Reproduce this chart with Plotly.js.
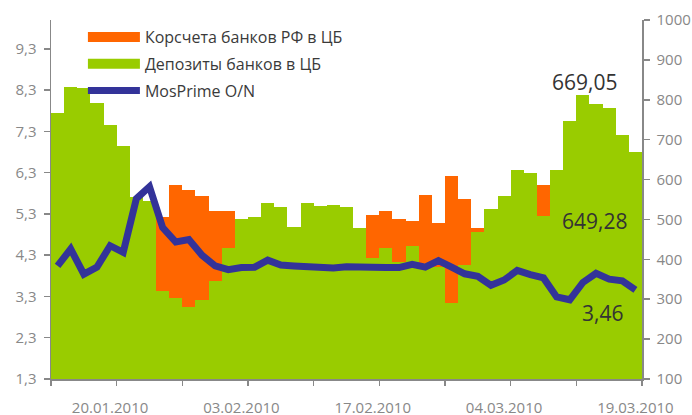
<!DOCTYPE html>
<html><head><meta charset="utf-8">
<script src="https://cdn.plot.ly/plotly-3.0.1.min.js"></script>
<style>html,body{margin:0;padding:0;background:#fff}#chart{width:692px;height:415px}</style>
</head><body><div id="chart"></div>
<script>
const dates = ['14.01.2010','15.01.2010','18.01.2010','19.01.2010','20.01.2010',
  '21.01.2010','22.01.2010','25.01.2010','26.01.2010','27.01.2010',
  '28.01.2010','29.01.2010','01.02.2010','02.02.2010','03.02.2010',
  '04.02.2010','05.02.2010','08.02.2010','09.02.2010','10.02.2010',
  '11.02.2010','12.02.2010','15.02.2010','16.02.2010','17.02.2010',
  '18.02.2010','19.02.2010','24.02.2010','25.02.2010','26.02.2010',
  '27.02.2010','01.03.2010','02.03.2010','03.03.2010','04.03.2010',
  '05.03.2010','09.03.2010','10.03.2010','11.03.2010','12.03.2010',
  '15.03.2010','16.03.2010','17.03.2010','18.03.2010','19.03.2010'];
const korschet = [640,690,700,660,620, 580,520,510,506,587,
  574,560,522,522,480, 470,460,450,470,480,
  490,470,480,460,510, 522,502,497,562,491,
  610,552,478,500,520, 560,540,587,580,600,
  620,640,610,630,649.28];
const deposits = [768,831,830,791,737, 683,557,545,321,303,
  281,297,345,428,500, 507,541,532,481,541,
  533,536,530,478,403, 428,393,433,385,380,
  291,385,468,525,560, 625,617,508,625,747,
  812,790,779,712,669.05];
const mosprime = [4.04,4.45,3.84,4.01,4.53, 4.37,5.67,5.96,4.97,4.62,
  4.68,4.30,4.04,3.95,4.00, 4.01,4.18,4.06,4.04,4.01,
  3.99,3.99,4.02,4.00,4.00, 4.00,4.00,4.08,4.01,4.17,
  4.01,3.85,3.79,3.57,3.70, 3.93,3.83,3.75,3.29,3.22,
  3.64,3.86,3.72,3.68,3.46];
const tickDates = ['20.01.2010','03.02.2010','17.02.2010','04.03.2010','19.03.2010'];
const seriesNames = ['Корсчета банков РФ в ЦБ','Депозиты банков в ЦБ','MosPrime O/N'];
const colors = ['#ff6600','#99cc00','#333399'];

const xs = dates.map((d, i) => i);
const tickvals = tickDates.map(d => dates.indexOf(d));
const minorVals = [];
for (let i = 0; i <= dates.length; i += 5) minorVals.push(i - 0.5);
const fmt = v => v.toFixed(2).replace('.', ',');
const last = a => a[a.length - 1];

const grey = '#888888';
const tickFont = {family: 'Open Sans', size: 15, color: grey};
const annFont = {family: 'Open Sans', size: 21, color: '#333333'};

const traces = [
  {type: 'bar', x: xs, y: korschet, yaxis: 'y', marker: {color: colors[0], line: {width: 0}},
   width: 1, showlegend: false, legendgroup: 'k', name: seriesNames[0]},
  {type: 'bar', x: xs, y: deposits, yaxis: 'y', marker: {color: colors[1], line: {width: 0}},
   width: 1, showlegend: false, legendgroup: 'd', name: seriesNames[1]},
  {type: 'scatter', mode: 'lines', x: xs, y: mosprime, yaxis: 'y2', name: seriesNames[2],
   legendgroup: 'm', line: {color: colors[2], width: 7}, legendrank: 3},
  {type: 'scatter', mode: 'lines', x: [null], y: [null], yaxis: 'y', name: seriesNames[0],
   legendgroup: 'k', line: {color: colors[0], width: 11}, legendrank: 1, hoverinfo: 'skip'},
  {type: 'scatter', mode: 'lines', x: [null], y: [null], yaxis: 'y', name: seriesNames[1],
   legendgroup: 'd', line: {color: colors[1], width: 11}, legendrank: 2, hoverinfo: 'skip'}
];

const layout = {
  width: 692, height: 415,
  margin: {l: 51, r: 50, t: 20, b: 36, pad: 0},
  paper_bgcolor: '#ffffff', plot_bgcolor: '#ffffff',
  separators: ', ',
  barmode: 'overlay', bargap: 0,
  font: {family: 'Open Sans', size: 15, color: '#333333'},
  showlegend: true,
  legend: {x: 0.054, y: 1.0, xanchor: 'left', yanchor: 'top', bgcolor: 'rgba(0,0,0,0)',
           font: {family: 'Open Sans', size: 16, color: '#3a3a3a'}, itemwidth: 52,
           traceorder: 'grouped', tracegroupgap: 3},
  xaxis: {range: [-0.5, dates.length - 0.5], tickmode: 'array', tickvals: tickvals, ticktext: tickDates,
          ticks: 'outside', ticklen: 14, tickcolor: 'rgba(0,0,0,0)', showline: true, linecolor: grey,
          linewidth: 1.5, showgrid: false, zeroline: false, tickfont: tickFont,
          minor: {tickmode: 'array', tickvals: minorVals, ticks: 'outside', ticklen: 5, tickcolor: grey,
                  tickwidth: 1.5, showgrid: false}},
  yaxis: {side: 'right', range: [100, 1000], dtick: 100, tick0: 100, ticks: 'outside', ticklen: 6,
          tickcolor: grey, tickwidth: 1.5, showline: true, linecolor: grey, linewidth: 1.5,
          showgrid: false, zeroline: false, tickfont: tickFont, ticklabelstandoff: 4},
  yaxis2: {side: 'left', overlaying: 'y', range: [1.3, 10.0], tick0: 1.3, dtick: 1, tickformat: '.1f',
           ticks: 'outside', ticklen: 6, tickcolor: grey, tickwidth: 1.5, showline: true, linecolor: grey,
           linewidth: 1.5, showgrid: false, zeroline: false, tickfont: tickFont, ticklabelstandoff: 4},
  annotations: [
    {xref: 'paper', yref: 'paper', x: 0.903, y: 0.828, xanchor: 'center', yanchor: 'middle',
     text: fmt(last(deposits)), showarrow: false, font: annFont},
    {xref: 'paper', yref: 'paper', x: 0.920, y: 0.440, xanchor: 'center', yanchor: 'middle',
     text: fmt(last(korschet)), showarrow: false, font: annFont},
    {xref: 'paper', yref: 'paper', x: 0.934, y: 0.184, xanchor: 'center', yanchor: 'middle',
     text: fmt(last(mosprime)), showarrow: false, font: annFont}
  ]
};

Plotly.newPlot('chart', traces, layout, {displayModeBar: false, staticPlot: true});
</script></body></html>
